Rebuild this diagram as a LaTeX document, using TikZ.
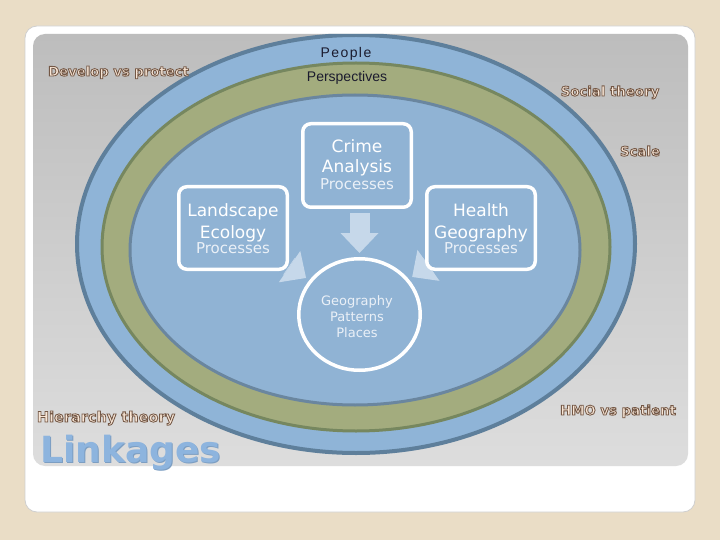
\documentclass[tikz,border=0pt]{standalone}
\usepackage{fontspec}
\setmainfont{DejaVu Sans}
\newfontfamily\arialf{Liberation Sans}
\usetikzlibrary{shapes.geometric,arrows.meta}
\definecolor{bgbeige}{HTML}{EADDC6}
\definecolor{cardline}{HTML}{CFCFCF}
\definecolor{paneltop}{HTML}{BDBDBD}
\definecolor{panelbot}{HTML}{DDDDDD}
\definecolor{outerblue}{HTML}{8FB4D7}
\definecolor{outerline}{HTML}{5E7F9B}
\definecolor{ringgreen}{HTML}{A3AC7E}
\definecolor{greenline}{HTML}{76875F}
\definecolor{innerblue}{HTML}{90B3D4}
\definecolor{innerline}{HTML}{6A869F}
\definecolor{arrowblue}{HTML}{C6D8EA}
\definecolor{subwhite}{HTML}{EAF0F7}
\definecolor{olfill}{HTML}{F8E6D6}
\definecolor{linkblue}{HTML}{8DB4DE}
\definecolor{linkshadow}{HTML}{7C9EC2}
\definecolor{darktext}{HTML}{1B1B2E}
\pgfdeclarelayer{bg}
\pgfdeclarelayer{arr}
\pgfsetlayers{bg,arr,main}
\tikzset{
  box/.style={draw=white, line width=3.5pt, fill=innerblue, rounded corners=8pt,
    minimum width=108.5pt, minimum height=83.5pt, inner sep=0pt},
  geoshape/.style={ellipse, draw=white, line width=3.5pt, fill=innerblue,
    minimum width=121.5pt, minimum height=111.5pt, inner sep=0pt},
  lbl/.style={inner sep=0pt, anchor=base},
  boxtitle/.style={lbl, text=white, font=\fontsize{17}{17}\selectfont},
  boxsub/.style={lbl, text=subwhite, font=\fontsize{15}{15}\selectfont},
  geotext/.style={lbl, text=subwhite, font=\fontsize{13}{13}\selectfont},
  ringtext/.style={lbl, text=darktext, font=\arialf\fontsize{14}{14}\selectfont},
  blockarrow/.style={draw=arrowblue, line width=20pt,
    -{Triangle[width=38pt,length=20pt,line width=0pt]}},
  olbase/.style={inner sep=0pt, anchor=base, text=olfill},
}
% outlined text: fill + stroke (text render mode 2)
\newcommand{\outltext}[1]{\special{pdf:code q 2 Tr 0.85 w 0.45 0.34 0.27 RG}#1\special{pdf:code Q}}
\newcommand{\outlinelabel}[4]{%
  \node[olbase, font=\bfseries\fontsize{#3}{#3}\selectfont] (#1) at (#2) {\outltext{#4}};
}
\begin{document}
\begin{tikzpicture}[x=1pt,y=-1pt]
\useasboundingbox (0,0) rectangle (720,540);
\begin{pgfonlayer}{bg}
  \fill[bgbeige] (0,0) rectangle (720,540);
  \draw[fill=white, draw=cardline, line width=0.8pt, rounded corners=12pt] (25,26) rectangle (695,512);
  \shade[top color=paneltop, bottom color=panelbot, rounded corners=12pt] (33,34) rectangle (688,466);
  \begin{scope}
    \clip[rounded corners=12pt] (33,34) rectangle (688,466);
    \draw[fill=outerblue, draw=outerline, line width=4pt] (356,244) ellipse [x radius=279pt, y radius=209pt];
    \draw[fill=ringgreen, draw=greenline, line width=3pt] (356,247) ellipse [x radius=254pt, y radius=184pt];
    \draw[fill=innerblue, draw=innerline, line width=3pt] (355,250) ellipse [x radius=225pt, y radius=155pt];
  \end{scope}
\end{pgfonlayer}

% ring texts
\node[ringtext, font=\arialf\fontsize{14}{14}\selectfont\addfontfeature{LetterSpace=10}] (people) at (346,58) {People};
\node[ringtext] (persp) at (347,82) {Perspectives};

% boxes
\node[box] (crime) at (357,165.5) {};
\node[box, minimum height=82.5pt] (land) at (233,228) {};
\node[box, minimum height=82.5pt] (health) at (481,228) {};
\node[geoshape] (geo) at (359.5,314.5) {};

\node[boxtitle] (c1) at (357,153) {Crime};
\node[boxtitle] (c2) at (357,173) {Analysis};
\node[boxsub]   (c3) at (357,190) {Processes};
\node[boxtitle] (l1) at (233,217) {Landscape};
\node[boxtitle] (l2) at (233,238) {Ecology};
\node[boxsub]   (l3) at (233,254) {Processes};
\node[boxtitle] (h1) at (481,217) {Health};
\node[boxtitle] (h2) at (481,238) {Geography};
\node[boxsub]   (h3) at (481,254) {Processes};
\node[geotext] (g1) at (357,305) {Geography};
\node[geotext] (g2) at (357,321) {Patterns};
\node[geotext] (g3) at (357,337) {Places};

% arrows
\begin{pgfonlayer}{arr}
  \draw[blockarrow, shorten <=4pt, shorten >=4pt] (crime.south -| geo.north) -- (geo.north);
  \draw[blockarrow, shorten >=4pt] (land) -- (geo);
  \draw[blockarrow, shorten >=4pt] (health) -- (geo);
\end{pgfonlayer}

% outlined labels
\outlinelabel{dev}{118.5,76}{13.2}{Develop vs protect}
\outlinelabel{soc}{610,96}{13.3}{Social theory}
\outlinelabel{scale}{640,156}{13.3}{Scale}
\outlinelabel{hier}{106,422}{14.5}{Hierarchy theory}
\outlinelabel{hmo}{618,415}{13.3}{HMO vs patient}

% Linkages
\node[inner sep=0pt, anchor=base west, text=linkshadow, font=\bfseries\fontsize{36}{36}\selectfont, xshift=1pt, yshift=-1pt] (linkshade) at (40,462) {Linkages};
\node[inner sep=0pt, anchor=base west, text=linkblue, font=\bfseries\fontsize{36}{36}\selectfont] (link) at (40,462) {Linkages};
\end{tikzpicture}
\end{document}
